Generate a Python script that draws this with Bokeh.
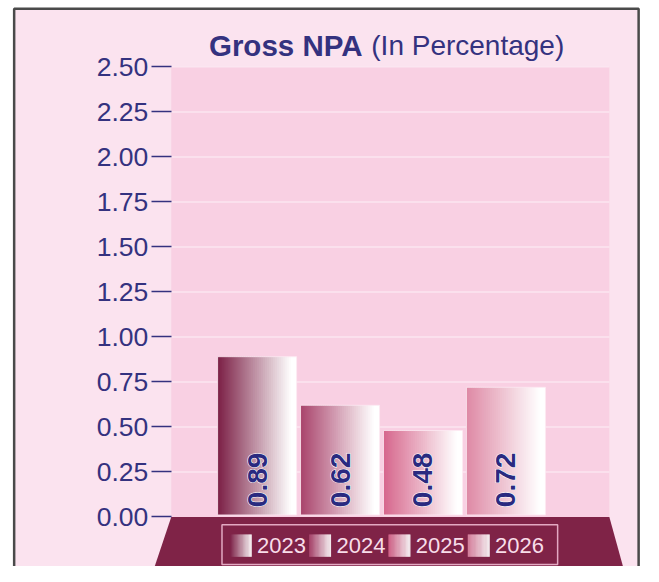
import numpy as np
from bokeh.plotting import figure
from bokeh.models import Range1d, FixedTicker, NumeralTickFormatter, Label
from bokeh.core.properties import value
from bokeh.embed import file_html
from bokeh.resources import INLINE

# ---------------- data ----------------
years = ["2023", "2024", "2025", "2026"]
gross_npa = [0.89, 0.62, 0.48, 0.72]
value_labels = ["0.89", "0.62", "0.48", "0.72"]
y_ticks = [0.0, 0.25, 0.5, 0.75, 1.0, 1.25, 1.5, 1.75, 2.0, 2.25, 2.5]
bar_colors = ["#7b1f45", "#a9436b", "#d6668c", "#de89a5"]

# ---------------- styles ----------------
NAVY = "#34327f"
OUTER_BG = "#fbe3ef"
PLOT_BG = "#f9d0e3"
GRID = "#fbe6f1"
MAROON = "#7f2347"
FONT = "Liberation Sans"

# ---------------- layout (reference pixels, 659 x 582 design) ----------------
W, H = 643, 566
REF_W, REF_H = 659.0, 582.0
X0_PX, PITCH_PX = 263.0, 85.0      # centre of first bar, spacing between bars
Y0_PX, UNIT_PX = 531.0, 185.1      # pixel row of value 0, pixels per unit
AREA_L, AREA_R = 175.0, 624.0      # plot area left / right
BAR_W = 81.0 / PITCH_PX


def dx(px):
    return (px - X0_PX) / PITCH_PX


def dy(py):
    return (Y0_PX - py) / UNIT_PX


def mix(c1, c2, t):
    a = [int(c1[k:k + 2], 16) for k in (1, 3, 5)]
    b = [int(c2[k:k + 2], 16) for k in (1, 3, 5)]
    return "#%02x%02x%02x" % tuple(int(round(a[k] + (b[k] - a[k]) * t)) for k in range(3))


p = figure(width=W, height=H, x_range=Range1d(dx(0), dx(REF_W)),
           y_range=Range1d(dy(REF_H), dy(0)), x_axis_type=None,
           min_border=0, toolbar_location=None, output_backend="svg",
           background_fill_color="white", border_fill_color="white",
           outline_line_color=None)
p.grid.visible = False

# outer card
p.quad(left=dx(14), right=dx(654), top=dy(8.5), bottom=dy(640),
       fill_color=OUTER_BG, line_color="#4a4a4a", line_width=2.5)

# plot area
p.quad(left=dx(AREA_L), right=dx(AREA_R), bottom=y_ticks[0], top=y_ticks[-1],
       fill_color=PLOT_BG, line_color=None)
p.segment(x0=[dx(AREA_L)] * len(y_ticks[1:]), x1=[dx(AREA_R)] * len(y_ticks[1:]),
          y0=y_ticks[1:], y1=y_ticks[1:], line_color=GRID, line_width=1.5)

# base trapezoid
p.patch(x=[dx(AREA_L), dx(AREA_R), dx(638), dx(158)],
        y=[0, 0, dy(582), dy(582)], fill_color=MAROON, line_color=None)

# gradient bars
N = 40
frac = (np.arange(N) + 0.5) / N
for i, (v, c) in enumerate(zip(gross_npa, bar_colors)):
    lefts = i - BAR_W / 2 + np.arange(N) * BAR_W / N
    rights = lefts + BAR_W / N * 1.4
    rights[-1] = i + BAR_W / 2
    cols = [mix(c, "#ffffff", min(f / 0.93, 1.0)) for f in frac]
    p.quad(left=lefts, right=rights, bottom=dy(529), top=v, fill_color=cols, line_color=None)
    p.quad(left=i - BAR_W / 2, right=i + BAR_W / 2, bottom=dy(529), top=v,
           fill_color=None, line_color="#fdeaf3", line_width=1, line_alpha=0.8)

# value labels (white halo underneath, navy on top)
xs = list(range(len(years)))
lab_y = [dy(521)] * len(years)
for col, outline in (("white", "white"), ("#2a2a80", None)):
    p.text(x=xs, y=lab_y, text=value_labels,
           angle=np.pi / 2, text_align="left", text_baseline="middle",
           text_font=value(FONT), text_font_style="bold", text_font_size="28px",
           text_color=col, text_outline_color=outline)

# y axis
ax = p.yaxis[0]
ax.fixed_location = dx(AREA_L)
ax.ticker = FixedTicker(ticks=y_ticks)
ax.formatter = NumeralTickFormatter(format="0.00")
ax.axis_line_color = None
ax.major_tick_out = 20
ax.major_tick_in = 0
ax.major_tick_line_color = NAVY
ax.major_tick_line_width = 1.5
ax.minor_tick_line_color = None
ax.major_label_standoff = 3
ax.major_label_text_font = FONT
ax.major_label_text_font_size = "26.5px"
ax.major_label_text_color = NAVY

# legend (drawn with the same gradients)
LEG_X0, LEG_PITCH, SW = 235.0, 81.3, 22.5
p.quad(left=dx(227), right=dx(571), top=dy(539), bottom=dy(580),
       fill_color=None, line_color="#e3a9c2", line_width=1.5)
for j, (yr, c) in enumerate(zip(years, bar_colors)):
    sl = LEG_X0 + j * LEG_PITCH
    lefts = dx(sl) + np.arange(N) * (SW / PITCH_PX) / N
    rights = lefts + (SW / PITCH_PX) / N * 1.4
    rights[-1] = dx(sl + SW)
    cols = [mix(c, "#ffffff", min(f / 0.93, 1.0)) for f in frac]
    p.quad(left=lefts, right=rights, bottom=dy(572), top=dy(549),
           fill_color=cols, line_color=None)
    p.text(x=[dx(sl + 28)], y=[dy(560.5)], text=[yr], text_align="left",
           text_baseline="middle", text_font=value(FONT),
           text_font_size="22px", text_color="#f8dde9")

# title
p.add_layout(Label(x=dx(371), y=dy(46), text="Gross NPA", text_align="right",
                   text_baseline="middle", text_font=FONT, text_font_style="bold",
                   text_font_size="29.5px", text_color=NAVY))
p.add_layout(Label(x=dx(380), y=dy(46), text="(In Percentage)", text_align="left",
                   text_baseline="middle", text_font=FONT,
                   text_font_size="28px", text_color=NAVY))

open("out.html", "w").write(file_html(p, INLINE))
